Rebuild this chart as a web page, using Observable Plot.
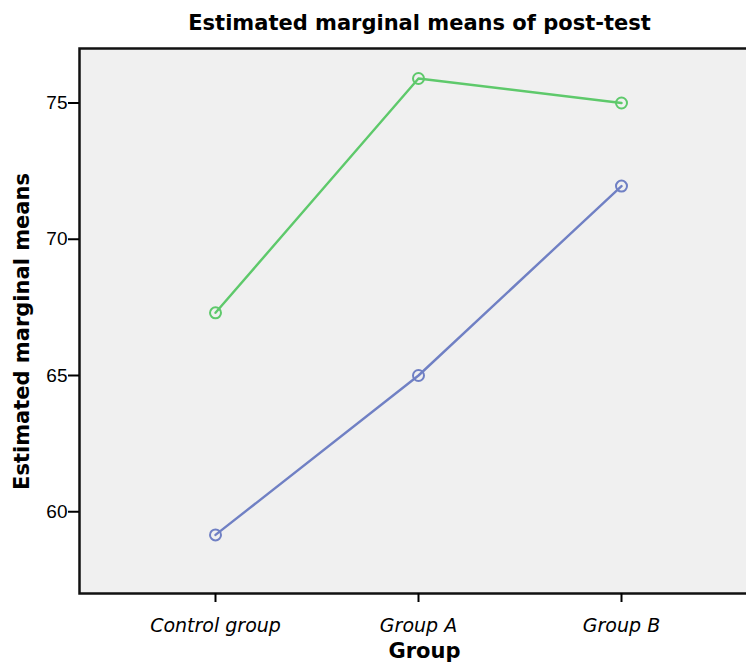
<!DOCTYPE html>
<html><head><meta charset="utf-8">
<script src="https://cdn.jsdelivr.net/npm/d3@7"></script>
<script src="https://cdn.jsdelivr.net/npm/@observablehq/plot@0.6"></script>
<style>body{margin:0;background:#fff;overflow:hidden}</style>
</head><body><div id="chart"></div>
<script>
const groups = ["Control group", "Group A", "Group B"];
const seriesNames = ["Series 1", "Series 2"];
const series1Values = [67.3, 75.9, 75.0];
const series2Values = [59.15, 65.0, 71.95];
const yTicks = [60, 65, 70, 75];
const seriesColors = ["#5ec96b", "#7080c4"];
const titleText = "Estimated marginal means of post-test";
const xLabel = "Group";
const yLabel = "Estimated marginal means";

const data = [
  ...groups.map((g, i) => ({group: g, value: series1Values[i], series: seriesNames[0]})),
  ...groups.map((g, i) => ({group: g, value: series2Values[i], series: seriesNames[1]}))
];

const dejavu = "'DejaVu Sans', Verdana, sans-serif";

const plot = Plot.plot({
  width: 746,
  height: 665,
  marginLeft: 79,
  marginRight: -6,
  marginTop: 48,
  marginBottom: 72,
  style: {fontFamily: "'Liberation Sans', Arial, sans-serif", background: "#fff", overflow: "hidden"},
  x: {type: "point", domain: groups, range: [214, 621], padding: 0},
  y: {domain: [57, 77]},
  color: {domain: seriesNames, range: seriesColors},
  marks: [
    Plot.frame({fill: "#f0f0f0", stroke: "#111", strokeWidth: 2.5}),
    Plot.axisY({ticks: yTicks, tickSize: 11, tickPadding: 1, fontSize: 19, label: null, stroke: "#000", strokeWidth: 2}),
    Plot.axisX({tickSize: 9, tickPadding: 16, fontSize: 19, fontStyle: "italic", fontFamily: dejavu, label: null, stroke: "#000", strokeWidth: 2}),
    Plot.line(data, {x: "group", y: "value", z: "series", stroke: "series", strokeWidth: 2.4}),
    Plot.dot(data, {x: "group", y: "value", stroke: "series", fill: "none", r: 5.5, strokeWidth: 2}),
    Plot.text([titleText], {frameAnchor: "top", dx: 3.5, dy: -33, fontSize: 21, fontWeight: "bold", fontFamily: dejavu, fill: "#000"}),
    Plot.text([xLabel], {frameAnchor: "bottom", dx: 8.5, dy: 64, fontSize: 21, fontWeight: "bold", fontFamily: dejavu, fill: "#000"}),
    Plot.text([yLabel], {frameAnchor: "left", textAnchor: "middle", dx: -57, dy: 10.5, rotate: -90, fontSize: 21, fontWeight: "bold", fontFamily: dejavu, fill: "#000"})
  ]
});
document.getElementById("chart").appendChild(plot);
</script>
</body></html>
